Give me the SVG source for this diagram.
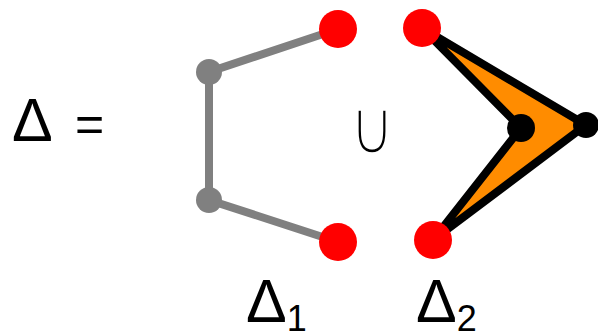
<svg xmlns="http://www.w3.org/2000/svg" width="598" height="332" viewBox="0 0 598 332">
<style>
.t{font-family:"Liberation Sans",Arial,sans-serif;fill:#000}
.red{fill:#ff0000}
.gray{fill:#808080}
.blk{fill:#000}
</style>
<rect width="598" height="332" fill="#fff"/>
<text class="t" x="12" y="141" font-size="61">Δ</text>
<text class="t" x="75" y="141" font-size="50">=</text>
<text transform="translate(372,154) scale(0.75,0.93)" x="0" y="0" font-family="DejaVu Sans,sans-serif" font-size="84" text-anchor="middle" stroke="#fff" stroke-width="4">∪</text>
<g id="connectors">
<polyline points="338,29 209,72 209,200 338,242" fill="none" stroke="#808080" stroke-width="8"/>
<polygon points="422,28 586,125 433,240 521,128" fill="#ff8c00" stroke="#000" stroke-width="8" stroke-linejoin="miter"/>
</g>
<g id="g1"><circle class="gray" cx="209" cy="72" r="13"/></g>
<g id="g2"><circle class="gray" cx="209" cy="200" r="13"/></g>
<g id="r1"><circle class="red" cx="338" cy="29" r="19"/></g>
<g id="r2"><circle class="red" cx="338" cy="242" r="19"/></g>
<g id="r3"><circle class="red" cx="422" cy="28" r="19"/></g>
<g id="r4"><circle class="red" cx="433" cy="240" r="19"/></g>
<g id="b1"><circle class="blk" cx="521" cy="128" r="14"/></g>
<g id="b2"><circle class="blk" cx="586" cy="125" r="13"/></g>
<text class="t" x="246" y="322" font-size="61">Δ<tspan font-size="36" dy="9">1</tspan></text>
<text class="t" x="416" y="322" font-size="61">Δ<tspan font-size="36" dy="9">2</tspan></text>
</svg>
